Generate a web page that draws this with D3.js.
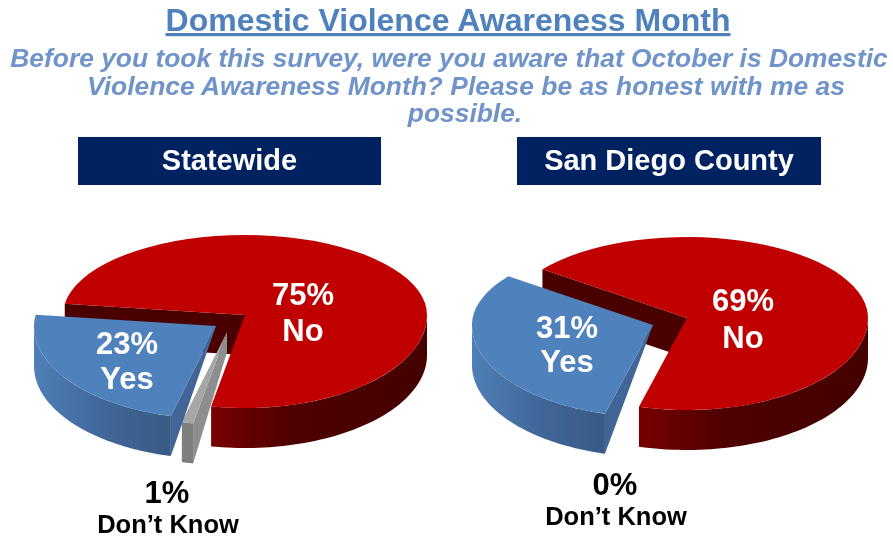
<!DOCTYPE html>
<html>
<head>
<meta charset="utf-8">
<script src="https://cdn.jsdelivr.net/npm/d3@7"></script>
<style>
  html, body { margin: 0; padding: 0; background: #fff; }
  svg { display: block; }
  text { font-family: "Liberation Sans", Arial, sans-serif; font-weight: bold; }
</style>
</head>
<body>
<div id="chart"></div>
<script>
const categories = ["No", "Don't Know", "Yes"];
const statewideValues = [75, 1, 23];
const sanDiegoValues = [69, 0, 31];
const questionLines = [
  "Before you took this survey, were you aware that October is Domestic",
  "Violence Awareness  Month? Please be as honest with me as",
  "possible."
];

const width = 893, height = 538;
const depth = 40;
const colors = {
  "No": { top: "#c00000", wall: "#4c0000", side: ["#780000", "#520000", "#4a0000", "#440000"] },
  "Yes": { top: "#4f81bd", wall: "#3f6596", side: ["#4f7fb8", "#41679a", "#385a85"] },
  "Don't Know": { top: "#a6a6a6", wall: "#8e8e8e", side: ["#7f7f7f", "#7f7f7f"] }
};

const panels = [
  {
    name: "Statewide", values: statewideValues, start: 278, cx: 245, cy: 315, rx: 182, ryBack: 80, ryFront: 93,
    box: 78, boxWidth: 303,
    offsets: { "No": [0, 0], "Don't Know": [-18, 17], "Yes": [-29, 11] },
    labels: { "No": [303, 305, 341], "Yes": [127, 354, 389], "Don't Know": [167, 503, 533] }
  },
  {
    name: "San Diego County", values: sanDiegoValues, start: 307, cx: 687, cy: 318, rx: 181, ryBack: 81, ryFront: 92,
    box: 517, boxWidth: 304,
    offsets: { "No": [0, 0], "Don't Know": [0, 0], "Yes": [-34, 7] },
    labels: { "No": [743, 311, 348], "Yes": [567, 338, 372], "Don't Know": [615, 495, 525] }
  }
];

const svg = d3.select("#chart").append("svg")
  .attr("width", width)
  .attr("height", height);
const defs = svg.append("defs");

// the reference is a soft screenshot, a small blur gets the same edges
defs.append("filter")
  .attr("id", "soft")
  .append("feGaussianBlur")
  .attr("stdDeviation", 0.45);
const root = svg.append("g").attr("filter", "url(#soft)");

// title and question
root.append("text")
  .attr("x", 448).attr("y", 31)
  .attr("text-anchor", "middle")
  .attr("font-size", 32)
  .attr("fill", "#4f81bd")
  .attr("text-decoration", "underline")
  .text("Domestic Violence Awareness Month");

root.selectAll("text.question")
  .data(questionLines)
  .join("text")
  .attr("class", "question")
  .attr("x", (d, i) => [449, 466, 465][i])
  .attr("y", (d, i) => 67 + i * 27.5)
  .attr("text-anchor", "middle")
  .attr("font-size", 26.4)
  .attr("font-style", "italic")
  .attr("fill", "#6f94c9")
  .text(d => d);

const line = d3.line();

function drawPie(panel, idx) {
  const g = root.append("g").attr("class", "pie");

  g.append("rect")
    .attr("x", panel.box).attr("y", 137)
    .attr("width", panel.boxWidth).attr("height", 48)
    .attr("fill", "#002060");
  g.append("text")
    .attr("x", panel.box + panel.boxWidth / 2).attr("y", 170)
    .attr("text-anchor", "middle")
    .attr("font-size", 29)
    .attr("fill", "#fff")
    .text(panel.name);

  const startAngle = panel.start * Math.PI / 180;
  const pie = d3.pie().sort(null).startAngle(startAngle).endAngle(startAngle + 2 * Math.PI);
  const slices = pie(panel.values);

  const project = (a, off) => {
    const c = Math.cos(a);
    return [
      panel.cx + off[0] + panel.rx * Math.sin(a),
      panel.cy + off[1] - (c > 0 ? panel.ryBack : panel.ryFront) * c
    ];
  };
  const arcPoints = (a0, a1, off) => d3.range(0, 61).map(i => project(a0 + (a1 - a0) * i / 60, off));
  const down = p => [p[0], p[1] + depth];

  slices.forEach((s, i) => {
    const cat = categories[i];
    if (s.value === 0) return;
    const off = panel.offsets[cat];
    const col = colors[cat];
    const apex = [panel.cx + off[0], panel.cy + off[1]];
    const startPt = project(s.startAngle, off);
    const endPt = project(s.endAngle, off);

    // cut wall at the start edge
    if (cat === "No") {
      g.append("path")
        .attr("d", line([startPt, apex, down(apex), down(startPt)]) + "Z")
        .attr("fill", col.wall);
    } else if (cat === "Yes") {
      // narrows to nothing at the apex
      g.append("path")
        .attr("d", line([apex, startPt, down(startPt)]) + "Z")
        .attr("fill", col.wall);
    } else {
      g.append("path")
        .attr("d", line([apex, startPt, down(startPt), [apex[0], apex[1] + depth / 2]]) + "Z")
        .attr("fill", col.wall);
    }

    // outer wall: the part of the arc that faces the viewer
    const k = Math.ceil((s.startAngle - 1.5 * Math.PI) / (2 * Math.PI));
    const f0 = Math.max(s.startAngle, Math.PI / 2 + k * 2 * Math.PI);
    const f1 = Math.min(s.endAngle, 1.5 * Math.PI + k * 2 * Math.PI);
    if (f1 > f0) {
      const gradId = `side_${idx}_${i}`;
      const top = arcPoints(f0, f1, off);
      const xs = top.map(p => p[0]);
      const grad = defs.append("linearGradient")
        .attr("id", gradId)
        .attr("gradientUnits", "userSpaceOnUse")
        .attr("x1", d3.min(xs)).attr("x2", d3.max(xs))
        .attr("y1", 0).attr("y2", 0);
      col.side.forEach((c, n) => {
        grad.append("stop").attr("offset", n / (col.side.length - 1)).attr("stop-color", c);
      });
      const bottom = top.map(down).reverse();
      g.append("path")
        .attr("d", line(top.concat(bottom)) + "Z")
        .attr("fill", `url(#${gradId})`);
    }

    // top surface
    g.append("path")
      .attr("d", line([apex].concat(arcPoints(s.startAngle, s.endAngle, off))) + "Z")
      .attr("fill", col.top);
  });

  // labels
  categories.forEach((cat, i) => {
    const [x, y1, y2] = panel.labels[cat];
    const dark = cat === "Don't Know";
    g.append("text")
      .attr("x", x).attr("y", y1)
      .attr("text-anchor", "middle")
      .attr("font-size", 31)
      .attr("fill", dark ? "#000" : "#fff")
      .text(panel.values[i] + "%");
    g.append("text")
      .attr("x", x + (dark ? 1 : 0)).attr("y", y2)
      .attr("text-anchor", "middle")
      .attr("font-size", dark ? 25.5 : 31)
      .attr("fill", dark ? "#000" : "#fff")
      .text(cat === "Don't Know" ? "Don\u2019t Know" : cat);
  });
}

panels.forEach(drawPie);
</script>
</body>
</html>
